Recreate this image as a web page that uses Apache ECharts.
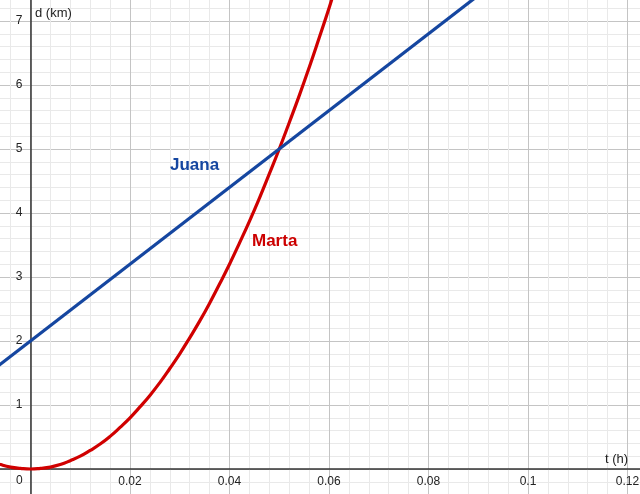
<!DOCTYPE html>
<html>
<head>
<meta charset="utf-8">
<script src="https://cdn.jsdelivr.net/npm/echarts@6/dist/echarts.min.js"></script>
<style>html,body{margin:0;padding:0;background:#fff}#c{width:640px;height:494px}</style>
</head>
<body>
<div id="c"></div>
<script>
// Data
var juanaT = [-0.007, 0.09];
var juanaD = [1.58, 7.4];
var martaT = [-0.007,-0.006,-0.004,-0.002,0,0.002,0.004,0.006,0.008,0.010,0.012,0.014,0.016,0.018,0.020,0.022,0.024,0.026,0.028,0.030,0.032,0.034,0.036,0.038,0.040,0.042,0.044,0.046,0.048,0.050,0.052,0.054,0.056,0.058,0.060,0.062];
var martaD = [0.10,0.07,0.03,0.01,0,0.01,0.03,0.07,0.13,0.20,0.29,0.39,0.51,0.65,0.80,0.97,1.15,1.35,1.57,1.80,2.05,2.31,2.59,2.89,3.20,3.53,3.87,4.23,4.61,5.00,5.41,5.83,6.27,6.73,7.20,7.69];
var xTicks = [0.02, 0.04, 0.06, 0.08, 0.1, 0.12];
var yTicks = [1, 2, 3, 4, 5, 6, 7];
var seriesNames = ['Juana', 'Marta'];
var axisNames = ['t (h)', 'd (km)'];

function pairs(a, b) { return a.map(function (v, i) { return [v, b[i]]; }); }

var chart = echarts.init(document.getElementById('c'), null, {renderer: 'canvas'});
var labelFont = {color: '#222', fontSize: 12, fontFamily: 'Liberation Sans, Arial, sans-serif'};
chart.setOption({
  animation: false,
  grid: {left: -69, top: -43, width: 796, height: 576, containLabel: false, outerBoundsMode: 'none'},
  xAxis: {
    type: 'value', min: -0.02, max: 0.14, interval: 0.02,
    position: 'bottom', offset: -64,
    axisLine: {show: true, onZero: false, lineStyle: {color: '#333', width: 1.5}},
    axisTick: {show: false},
    minorTick: {show: false, splitNumber: 5},
    splitLine: {show: true, lineStyle: {color: '#c4c4c4', width: 1}},
    minorSplitLine: {show: true, lineStyle: {color: '#e9e9e9', width: 1}},
    axisLabel: Object.assign({
      margin: 7, interval: 0, hideOverlap: false,
      formatter: function (v) {
        for (var i = 0; i < xTicks.length; i++) { if (Math.abs(v - xTicks[i]) < 1e-9) return String(xTicks[i]); }
        return '';
      }
    }, labelFont)
  },
  yAxis: {
    type: 'value', min: -1, max: 8, interval: 1,
    position: 'left', offset: -99.5,
    axisLine: {show: true, onZero: false, lineStyle: {color: '#333', width: 1.5}},
    axisTick: {show: false},
    minorTick: {show: false, splitNumber: 5},
    splitLine: {show: true, lineStyle: {color: '#c4c4c4', width: 1}},
    minorSplitLine: {show: true, lineStyle: {color: '#e9e9e9', width: 1}},
    axisLabel: Object.assign({
      margin: 8, interval: 0, hideOverlap: false,
      formatter: function (v) { return yTicks.indexOf(v) >= 0 ? String(v) : ''; }
    }, labelFont)
  },
  graphic: [
    {type: 'text', z: 100, left: 35, top: 7, style: {text: axisNames[1], fill: '#222', font: '13px Liberation Sans, Arial, sans-serif'}},
    {type: 'text', z: 100, left: 605, top: 453, style: {text: axisNames[0], fill: '#222', font: '13px Liberation Sans, Arial, sans-serif'}},
    {type: 'text', z: 100, left: 16, top: 475, style: {text: '0', fill: '#222', font: '12px Liberation Sans, Arial, sans-serif'}},
    {type: 'text', z: 100, left: 170, top: 157, style: {text: seriesNames[0], fill: '#1546a0', font: 'bold 17px Liberation Sans, Arial, sans-serif'}},
    {type: 'text', z: 100, left: 252, top: 233, style: {text: seriesNames[1], fill: '#cc0000', font: 'bold 17px Liberation Sans, Arial, sans-serif'}}
  ],
  series: [
    {name: seriesNames[1], type: 'line', data: pairs(martaT, martaD), smooth: true, showSymbol: false,
     lineStyle: {color: '#d00000', width: 3.2}, z: 3},
    {name: seriesNames[0], type: 'line', data: pairs(juanaT, juanaD), showSymbol: false,
     lineStyle: {color: '#1546a0', width: 3.2}, z: 4}
  ]
});
</script>
</body>
</html>
